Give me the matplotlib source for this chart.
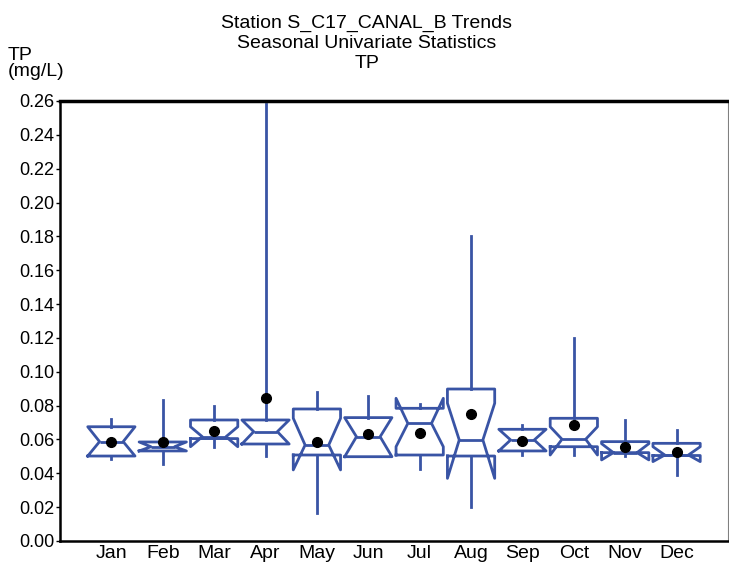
import matplotlib
matplotlib.use("Agg")
import matplotlib.pyplot as plt

plt.rcParams['font.family'] = ['Liberation Sans', 'DejaVu Sans']

# data (TP, mg/L)
months = ['Jan', 'Feb', 'Mar', 'Apr', 'May', 'Jun',
          'Jul', 'Aug', 'Sep', 'Oct', 'Nov', 'Dec']
whis_lo = [0.0483, 0.0455, 0.0557, 0.0502, 0.0167, 0.0498,
           0.0424, 0.0199, 0.0508, 0.0508, 0.0500, 0.0390]
q1 = [0.0502, 0.0532, 0.0605, 0.0573, 0.0508, 0.0498,
      0.0508, 0.0502, 0.0532, 0.0557, 0.0522, 0.0505]
med = [0.0587, 0.0557, 0.0616, 0.0646, 0.0567, 0.0616,
       0.0695, 0.0597, 0.0597, 0.0601, 0.0522, 0.0508]
q3 = [0.0675, 0.0585, 0.0715, 0.0715, 0.0780, 0.0729,
      0.0784, 0.0898, 0.0660, 0.0725, 0.0587, 0.0577]
whis_hi = [0.0719, 0.0833, 0.0798, 0.2580, 0.0882, 0.0857,
           0.0808, 0.1800, 0.0685, 0.1200, 0.0715, 0.0656]
ci_lo = [0.0502, 0.0532, 0.0557, 0.0573, 0.0420, 0.0498,
         0.0557, 0.0370, 0.0532, 0.0508, 0.0479, 0.0469]
ci_hi = [0.0675, 0.0585, 0.0675, 0.0715, 0.0725, 0.0729,
         0.0843, 0.0814, 0.0660, 0.0675, 0.0575, 0.0557]
means = [0.0585, 0.0585, 0.0652, 0.0843, 0.0587, 0.0630,
         0.0640, 0.0749, 0.0593, 0.0685, 0.0557, 0.0528]

stats = []
for i, m in enumerate(months):
    stats.append(dict(label=m, whislo=whis_lo[i], q1=q1[i], med=med[i],
                      q3=q3[i], whishi=whis_hi[i], cilo=ci_lo[i],
                      cihi=ci_hi[i], mean=means[i], fliers=[]))

blue = '#3954a5'

fig = plt.figure(figsize=(7.29, 5.67), dpi=100)
ax = fig.add_axes([0.0823, 0.0459, 0.9163, 0.7760])

ax.bxp(stats, positions=range(1, 13), widths=0.92, shownotches=True,
       showmeans=True, showcaps=False, showfliers=False,
       boxprops=dict(color=blue, linewidth=2),
       whiskerprops=dict(color=blue, linewidth=2),
       medianprops=dict(color=blue, linewidth=2),
       meanprops=dict(marker='o', markerfacecolor='black',
                      markeredgecolor='black', markersize=7))

ax.set_xlim(0, 13)
ax.set_ylim(0, 0.26)
ax.set_yticks([i * 0.02 for i in range(14)])
ax.yaxis.set_major_formatter(plt.FuncFormatter(lambda v, p: f'{v:.2f}'))
ax.set_xticks(range(1, 13))
ax.set_xticklabels(months)

ax.tick_params(axis='y', direction='out', length=3, width=1,
               labelsize=13, pad=1)
ax.tick_params(axis='x', length=0, labelsize=14, pad=3)

ax.spines['top'].set_linewidth(2.5)
ax.spines['left'].set_linewidth(1.8)
ax.spines['bottom'].set_linewidth(1.8)
ax.spines['right'].set_linewidth(0.8)
ax.spines['right'].set_color('#808080')

fig.text(0.503, 0.974, 'Station S_C17_CANAL_B Trends\nSeasonal Univariate Statistics\nTP',
         ha='center', va='top', fontsize=14, linespacing=1.22)
fig.text(0.011, 0.917, 'TP\n(mg/L)', ha='left', va='top', fontsize=14,
         linespacing=0.95)

fig.savefig('out.png', dpi=100)
